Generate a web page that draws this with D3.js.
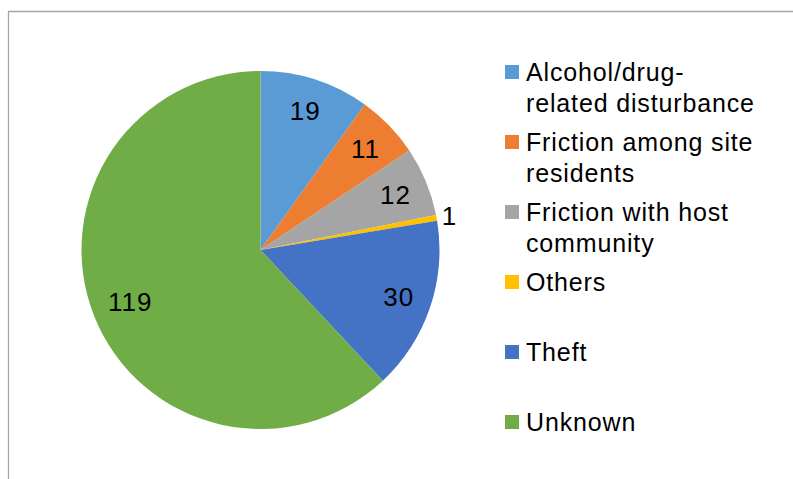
<!DOCTYPE html>
<html>
<head>
<meta charset="utf-8">
<script src="https://cdn.jsdelivr.net/npm/d3@7"></script>
<style>
  html, body { margin: 0; padding: 0; background: #fff; }
  svg { display: block; }
  text { font-family: "Liberation Sans", Arial, sans-serif; fill: #000; }
</style>
</head>
<body>
<svg id="chart" width="793" height="479"></svg>
<script>
// Incident categories (legend text, one array entry per line)
const categories = [
  ["Alcohol/drug-", "related disturbance"],
  ["Friction among site", "residents"],
  ["Friction with host", "community"],
  ["Others"],
  ["Theft"],
  ["Unknown"]
];
const counts = [19, 11, 12, 1, 30, 119];
const colors = ["#5b9bd5", "#ed7d31", "#a5a5a5", "#ffc000", "#4472c4", "#70ad47"];
// Radius at which each value label is placed (the tiny slice gets an outside label)
const labelRadius = [146, 146, 146, 192, 146, 140];

const svg = d3.select("#chart");
const W = 793, H = 479;

// Chart-area frame (left and top edges visible)
svg.append("path")
  .attr("d", `M8.5,${H} L8.5,11.5 L${W},11.5`)
  .attr("fill", "none")
  .attr("stroke", "#a6a6a6")
  .attr("stroke-width", 1.3);

const cx = 260.5, cy = 250, R = 179;

const pie = d3.pie().sort(null).value(d => d)
  .startAngle(0).endAngle(2 * Math.PI);
const arcs = pie(counts);

const arc = d3.arc().innerRadius(0).outerRadius(R);

const g = svg.append("g").attr("transform", `translate(${cx},${cy})`);

g.selectAll("path.slice")
  .data(arcs)
  .join("path")
  .attr("class", "slice")
  .attr("d", arc)
  .attr("fill", (d, i) => colors[i]);

g.selectAll("text.val")
  .data(arcs)
  .join("text")
  .attr("class", "val")
  .attr("transform", (d, i) => {
    const r = labelRadius[i];
    const p = d3.arc().innerRadius(r).outerRadius(r).centroid(d);
    return `translate(${p[0]},${p[1]})`;
  })
  .attr("text-anchor", "middle")
  .attr("dy", "0.36em")
  .attr("font-size", 26)
  .attr("letter-spacing", 1)
  .text(d => d.data);

// Legend
const legend = svg.append("g");
const legX = 505, firstBaseline = 80.5, step = 70, lineGap = 31;

const items = legend.selectAll("g.item")
  .data(categories)
  .join("g")
  .attr("class", "item")
  .attr("transform", (d, i) => `translate(${legX},${firstBaseline + i * step})`);

items.append("rect")
  .attr("x", 0)
  .attr("y", -15.5)
  .attr("width", 14)
  .attr("height", 14)
  .attr("fill", (d, i) => colors[i]);

items.append("text")
  .attr("x", 21)
  .attr("y", 0)
  .attr("font-size", 25)
  .attr("letter-spacing", 0.85)
  .selectAll("tspan")
  .data(d => d)
  .join("tspan")
  .attr("x", 21)
  .attr("dy", (d, j) => j === 0 ? 0 : lineGap)
  .text(d => d);
</script>
</body>
</html>
